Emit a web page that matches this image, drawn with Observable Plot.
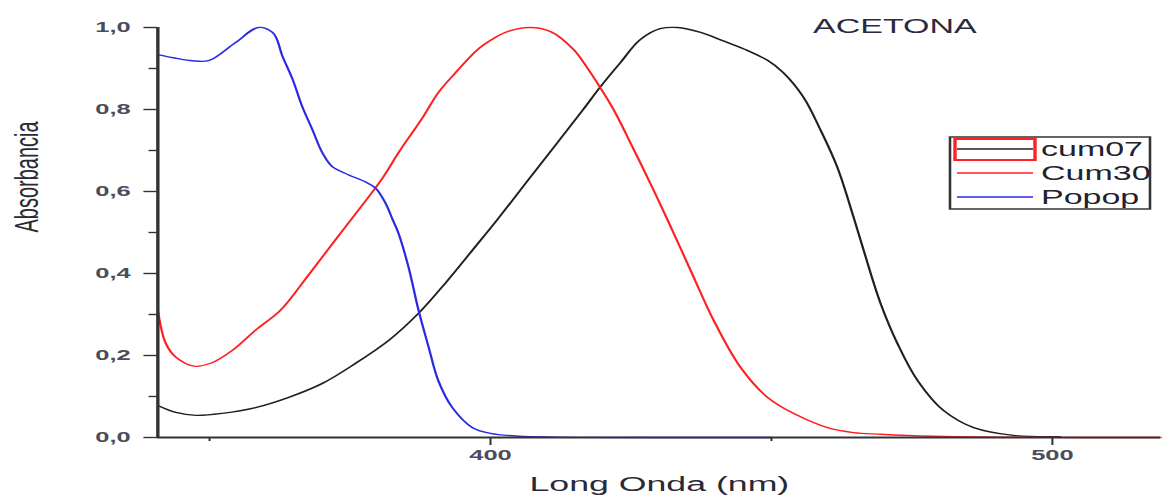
<!DOCTYPE html>
<html>
<head>
<meta charset="utf-8">
<script src="https://cdn.jsdelivr.net/npm/d3@7"></script>
<script src="https://cdn.jsdelivr.net/npm/@observablehq/plot@0.6"></script>
<style>
  html, body { margin: 0; padding: 0; background: #fff; }
  #chart { width: 1168px; height: 500px; overflow: hidden; }
</style>
</head>
<body>
<div id="chart"></div>
<script>
// ---- data ----
const title = "ACETONA";
const xLabel = "Long Onda (nm)";
const yLabel = "Absorbancia";
const seriesNames = ["cum07", "Cum30", "Popop"];
const seriesColors = ["#202020", "#ff1f1f", "#2a2ae6"];
const xMajorTicks = [400, 500];
const xMinorTicks = [350, 450];
const yMajorTicks = [0, 0.2, 0.4, 0.6, 0.8, 1.0];
const yMinorTicks = [0.1, 0.3, 0.5, 0.7, 0.9];
const xDomain = [340.8, 519.3];
const yDomain = [0, 1];

const cum07Nm  = [340.8,344.0,347.6,352.3,358.2,364.1,370.1,376.0,381.9,387.2,392.0,396.8,401.2,406.6,411.9,416.5,419.6,423.1,426.7,430.2,433.3,437.4,441.3,445.2,449.3,452.1,455.7,458.7,461.7,464.6,466.4,469.4,472.4,476.0,480.6,486.0,493.1,501.4];
const cum07Abs = [0.078,0.061,0.054,0.059,0.073,0.098,0.132,0.181,0.237,0.303,0.377,0.457,0.531,0.626,0.719,0.800,0.856,0.914,0.971,0.997,1.0,0.988,0.968,0.947,0.920,0.890,0.830,0.751,0.660,0.538,0.457,0.328,0.230,0.139,0.066,0.024,0.005,0.002];

const cum30Nm  = [340.8,342.2,344.0,347.2,350.2,354.1,358.2,362.6,367.6,372.4,377.2,380.8,383.6,387.9,390.7,393.8,397.3,398.8,403.0,407.1,410.7,414.8,417.3,419.6,421.9,425.4,429.0,431.5,435.6,439.7,444.5,449.3,453.9,460.0,464.6,469.4,478.8,490.0,505.0,519.3];
const cum30Abs = [0.311,0.230,0.196,0.174,0.181,0.213,0.262,0.310,0.396,0.482,0.567,0.633,0.694,0.780,0.841,0.890,0.941,0.958,0.990,1.0,0.990,0.946,0.900,0.852,0.800,0.705,0.604,0.531,0.408,0.286,0.171,0.098,0.059,0.024,0.012,0.008,0.003,0.001,0,0];

const popopNm  = [340.8,347.0,349.8,354.6,358.7,361.2,363.0,364.8,366.5,368.3,370.1,371.9,374.7,377.8,379.5,381.3,382.6,383.6,385.4,387.2,389.0,390.7,393.2,396.8,400.0,405.0,412.0,450.0];
const popopAbs = [0.934,0.919,0.919,0.963,1.0,0.988,0.929,0.873,0.807,0.751,0.694,0.660,0.641,0.623,0.609,0.572,0.531,0.499,0.416,0.310,0.220,0.139,0.073,0.024,0.010,0.003,0.001,0];

// ---- build table ----
const seriesNm = [cum07Nm, cum30Nm, popopNm];
const seriesAbs = [cum07Abs, cum30Abs, popopAbs];
const rows = [];
seriesNames.forEach((name, i) => {
  seriesNm[i].forEach((nm, j) => rows.push({series: name, nm, abs: seriesAbs[i][j]}));
});

// The reference is a horizontally stretched picture: draw narrow, then stretch.
const W = 1168, H = 500, S = 1.7;
const w = W / S;
const fmt = d => d.toFixed(1).replace(".", ",");
const axisColor = "#333";
const labelColor = "#4c4c5c";

const chart = Plot.plot({
  width: w,
  height: H,
  marginLeft: 157 / S,
  marginRight: 8 / S,
  marginTop: 27,
  marginBottom: 63,
  style: {background: "#fff", fontFamily: "'Liberation Sans', Arial, sans-serif", overflow: "visible"},
  x: {domain: xDomain, axis: null},
  y: {domain: yDomain, axis: null},
  color: {domain: seriesNames, range: seriesColors},
  marks: [
    Plot.line(rows, {x: "nm", y: "abs", z: "series", stroke: "series", strokeWidth: 1.35, curve: "catmull-rom"}),
    Plot.ruleY([0], {stroke: axisColor, strokeWidth: 2}),
    Plot.ruleX([xDomain[0]], {stroke: axisColor, strokeWidth: 2}),
    Plot.axisX(xMajorTicks, {tickSize: 8, tickPadding: 4, tickFormat: d => String(d), stroke: axisColor, strokeWidth: 1.2,
      fontSize: 15, fontWeight: "bold", fill: labelColor, label: null}),
    Plot.axisX(xMinorTicks, {tickSize: 4, tickFormat: () => "", stroke: axisColor, strokeWidth: 1.2, label: null}),
    Plot.axisY(yMajorTicks, {tickSize: 8, tickPadding: 8, tickFormat: fmt, stroke: axisColor, strokeWidth: 1.4,
      fontSize: 15, fontWeight: "bold", fill: labelColor, label: null}),
    Plot.axisY(yMinorTicks, {tickSize: 5, tickFormat: () => "", stroke: axisColor, strokeWidth: 1.4, label: null}),
    Plot.text([xLabel], {frameAnchor: "bottom", dy: 53, fontSize: 21, fill: "#2a2a35"}),
    Plot.text([yLabel], {frameAnchor: "left", rotate: -90, dx: -(157 - 26) / S, fontSize: 20, fill: "#2a2a35"}),
    Plot.text([title], {frameAnchor: "top", dx: (894 - 658.5) / S, dy: -9, fontSize: 20, fill: "#2b2b40"})
  ]
});

chart.setAttribute("width", W);
chart.setAttribute("height", H);
chart.setAttribute("preserveAspectRatio", "none");
chart.style.width = W + "px";
chart.style.height = H + "px";
chart.style.maxWidth = "none";

// legend (drawn in the same stretched coordinate system)
const svg = d3.select(chart);
const lg = svg.append("g").attr("font-family", "'Liberation Sans', Arial, sans-serif").attr("text-anchor", "start");
lg.append("rect")
  .attr("x", 950 / S).attr("y", 137).attr("width", (1150 - 950) / S).attr("height", 72)
  .attr("fill", "#fff").attr("stroke", "#333").attr("stroke-width", 1.5);
const rowY = [149, 173, 197];
seriesNames.forEach((name, i) => {
  lg.append("line")
    .attr("x1", 957 / S).attr("x2", 1033 / S).attr("y1", rowY[i]).attr("y2", rowY[i])
    .attr("stroke", seriesColors[i]).attr("stroke-width", 1.5);
  lg.append("text")
    .attr("x", 1041 / S).attr("y", rowY[i]).attr("dy", "0.36em").attr("text-anchor", "start")
    .attr("font-size", 20).attr("fill", "#22222e").text(name);
});
lg.append("rect")
  .attr("x", 955 / S).attr("y", 139).attr("width", (1035 - 955) / S).attr("height", 21)
  .attr("fill", "none").attr("stroke", "#ff2020").attr("stroke-width", 2);

document.getElementById("chart").appendChild(chart);
</script>
</body>
</html>
